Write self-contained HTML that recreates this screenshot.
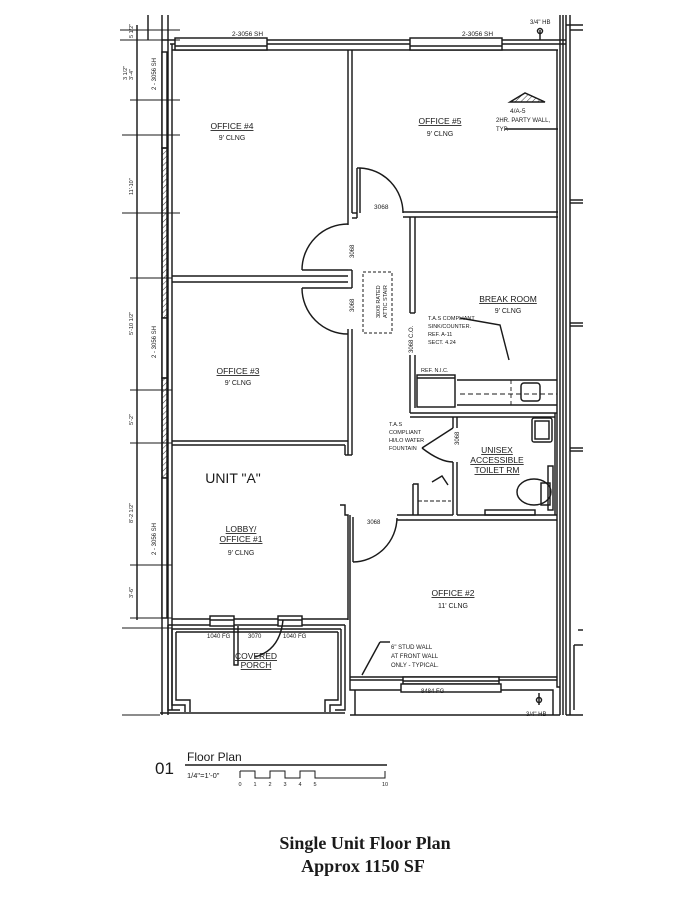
<!DOCTYPE html>
<html><head><meta charset="utf-8"><style>
html,body{margin:0;padding:0;background:#fff;}
svg{display:block}
text{font-family:"Liberation Sans",sans-serif;fill:#1a1a1a}
</style></head><body>
<svg width="695" height="900" viewBox="0 0 695 900" xmlns="http://www.w3.org/2000/svg">
<defs>
<pattern id="hatch" width="4" height="4" patternUnits="userSpaceOnUse" patternTransform="rotate(45)">
<line x1="0" y1="0" x2="0" y2="4" stroke="#333" stroke-width="1"/></pattern>
</defs>
<g stroke="#1a1a1a" stroke-width="1.45" fill="none">
<line x1="162" y1="40" x2="566" y2="40"/>
<line x1="170" y1="44" x2="566" y2="44"/>
<line x1="172" y1="50" x2="558" y2="50"/>
<rect x="175" y="38" width="92" height="12" fill="#fff"/>
<line x1="175" y1="46" x2="267" y2="46"/>
<rect x="410" y="38" width="92" height="12" fill="#fff"/>
<line x1="410" y1="46" x2="502" y2="46"/>
<line x1="162" y1="15" x2="162" y2="715"/>
<line x1="168" y1="15" x2="168" y2="715"/>
<line x1="172" y1="44" x2="172" y2="710"/>
<rect x="162" y="52" width="5" height="96" fill="#fff"/>
<rect x="162" y="148" width="5" height="170" fill="url(#hatch)"/>
<rect x="162" y="318" width="5" height="60" fill="#fff"/>
<rect x="162" y="378" width="5" height="100" fill="url(#hatch)"/>
<rect x="162" y="478" width="5" height="140" fill="#fff"/>
<line x1="148" y1="15" x2="148" y2="40"/>
<line x1="137" y1="25" x2="137" y2="620"/>
<g stroke-width="0.9">
<line x1="120" y1="30" x2="180" y2="30"/><line x1="120" y1="40" x2="180" y2="40"/>
<line x1="130" y1="100" x2="180" y2="100"/><line x1="122" y1="135" x2="180" y2="135"/>
<line x1="122" y1="213" x2="180" y2="213"/><line x1="130" y1="278" x2="172" y2="278"/>
<line x1="130" y1="390" x2="172" y2="390"/><line x1="130" y1="443" x2="172" y2="443"/>
<line x1="130" y1="565" x2="172" y2="565"/><line x1="130" y1="618" x2="172" y2="618"/>
<line x1="122" y1="628" x2="172" y2="628"/>
<line x1="122" y1="715" x2="160" y2="715"/>
</g>
<line x1="348" y1="50" x2="348" y2="225"/><line x1="352" y1="50" x2="352" y2="213"/>
<line x1="352" y1="213" x2="357" y2="213"/><line x1="357" y1="213" x2="357" y2="218"/><line x1="352" y1="218" x2="357" y2="218"/>
<line x1="357" y1="168" x2="357" y2="213"/><line x1="360" y1="168" x2="360" y2="213"/><line x1="357" y1="168" x2="360" y2="168"/>
<path d="M360 168 A45 45 0 0 1 403 213"/>
<line x1="403" y1="212" x2="558" y2="212"/><line x1="403" y1="217" x2="558" y2="217"/>
<line x1="410" y1="217" x2="410" y2="313"/><line x1="415" y1="217" x2="415" y2="313"/><line x1="410" y1="313" x2="415" y2="313"/>
<line x1="410" y1="355" x2="410" y2="413"/><line x1="415" y1="355" x2="415" y2="408"/>
<line x1="557" y1="50" x2="557" y2="680"/><line x1="560" y1="15" x2="560" y2="715"/>
<line x1="563" y1="15" x2="563" y2="715"/><line x1="566" y1="15" x2="566" y2="715"/>
<line x1="570" y1="15" x2="570" y2="715"/>
<line x1="566" y1="25" x2="583" y2="25"/><line x1="570" y1="30" x2="583" y2="30"/>
<line x1="570" y1="200" x2="583" y2="200"/><line x1="570" y1="203" x2="583" y2="203"/>
<line x1="570" y1="323" x2="583" y2="323"/><line x1="570" y1="326" x2="583" y2="326"/>
<line x1="570" y1="448" x2="583" y2="448"/><line x1="570" y1="451" x2="583" y2="451"/>
<line x1="574" y1="645" x2="583" y2="645"/><line x1="574" y1="645" x2="574" y2="710"/>
<line x1="578" y1="630" x2="583" y2="630"/>
<line x1="566" y1="715" x2="583" y2="715"/>
<line x1="172" y1="276" x2="348" y2="276"/><line x1="172" y1="282" x2="348" y2="282"/>
<line x1="302" y1="270" x2="348" y2="270"/><line x1="302" y1="288" x2="348" y2="288"/>
<path d="M302 270 A46 46 0 0 1 348 224"/>
<path d="M302 288 A46 46 0 0 0 348 334"/>
<line x1="348" y1="270" x2="352" y2="270"/><line x1="352" y1="270" x2="352" y2="288"/><line x1="348" y1="288" x2="352" y2="288"/>
<line x1="348" y1="329" x2="348" y2="455"/><line x1="352" y1="329" x2="352" y2="455"/><line x1="345" y1="455" x2="352" y2="455"/><line x1="345" y1="445" x2="345" y2="455"/>
<rect x="363" y="272" width="29" height="61" stroke-dasharray="3,2" stroke-width="1"/>
<line x1="172" y1="441" x2="348" y2="441"/><line x1="172" y1="445" x2="345" y2="445"/>
<line x1="410" y1="413" x2="557" y2="413"/><line x1="410" y1="417" x2="457" y2="417"/>
<rect x="417" y="375" width="38" height="32"/><line x1="417" y1="378" x2="455" y2="378"/>
<line x1="457" y1="380" x2="557" y2="380"/><line x1="457" y1="405" x2="557" y2="405"/>
<line x1="460" y1="394" x2="557" y2="394" stroke-dasharray="5,3" stroke-width="0.9"/>
<line x1="511" y1="380" x2="511" y2="405" stroke-dasharray="4,3" stroke-width="0.9"/>
<rect x="521" y="383" width="19" height="18" rx="3"/>
<polyline points="509,360 500,325 460,318"/>
<line x1="457" y1="417" x2="555" y2="417"/><line x1="555" y1="413" x2="555" y2="515"/>
<line x1="457" y1="417" x2="457" y2="428"/><line x1="453" y1="417" x2="453" y2="428"/>
<line x1="457" y1="462" x2="457" y2="515"/><line x1="453" y1="462" x2="453" y2="515"/>
<line x1="453" y1="428" x2="422" y2="448"/><path d="M422 448 Q440 462 453 462"/>
<rect x="532" y="418" width="20" height="24" rx="2"/><rect x="535" y="421" width="14" height="18"/>
<ellipse cx="534" cy="492" rx="17" ry="13"/>
<rect x="541" y="483" width="9" height="22"/><rect x="548" y="466" width="5" height="44"/>
<rect x="485" y="510" width="50" height="5"/>
<line x1="457" y1="515" x2="557" y2="515"/>
<path d="M413 484 L418 484 L418 515 M413 484 L413 515 M432 482 L442 476 L448 485"/>
<line x1="418" y1="501" x2="451" y2="501" stroke-dasharray="4,2" stroke-width="0.9"/>
<line x1="397" y1="515" x2="453" y2="515"/><line x1="397" y1="520" x2="557" y2="520"/>
<path d="M340 505 L345 505 L345 515 L348 515 L348 620"/>
<line x1="350" y1="515" x2="350" y2="680"/><line x1="353" y1="517" x2="353" y2="562"/>
<path d="M353 562 A45 45 0 0 0 397 518"/>
<line x1="350" y1="677" x2="557" y2="677"/><line x1="350" y1="680" x2="557" y2="680"/>
<rect x="403" y="677" width="96" height="7" fill="#fff"/><line x1="403" y1="681" x2="499" y2="681"/>
<rect x="401" y="684" width="100" height="8" fill="#fff"/>
<path d="M350 680 L350 690 L355 690 L355 715 M355 690 L401 690 M501 690 L553 690 L553 715 M557 680 L557 687 L560 687"/>
<line x1="350" y1="715" x2="560" y2="715"/>
<line x1="539" y1="693" x2="539" y2="705"/><circle cx="539" cy="700" r="2.5"/>
<line x1="380" y1="642" x2="362" y2="675"/><line x1="380" y1="642" x2="390" y2="642"/>
<line x1="172" y1="619" x2="348" y2="619"/>
<line x1="168" y1="625" x2="345" y2="625"/><line x1="172" y1="629" x2="341" y2="629"/><line x1="176" y1="632" x2="338" y2="632"/>
<rect x="210" y="616" width="24" height="10" fill="#fff"/><rect x="278" y="616" width="24" height="10" fill="#fff"/>
<line x1="210" y1="620" x2="234" y2="620"/><line x1="278" y1="620" x2="302" y2="620"/>
<path d="M234 626 L234 665 L238 665 L238 626"/>
<path d="M283 620 Q280 650 255 657"/>
<path d="M176 632 L176 700 L190 700 L190 712 M172 629 L172 705 L185 705 L185 712 M168 625 L168 710 L180 710"/>
<path d="M338 632 L338 700 L325 700 L325 712 M341 629 L341 705 L330 705 L330 712 M345 625 L345 710 L335 710"/>
<line x1="160" y1="713" x2="345" y2="713"/>
<path d="M510 102 L525 93 L545 102 Z" fill="url(#hatch)"/>
<line x1="505" y1="129" x2="558" y2="129"/>
<line x1="540" y1="30" x2="540" y2="40"/><circle cx="540" cy="31" r="2.5"/>
<line x1="185" y1="765" x2="387" y2="765"/>
<path d="M240 771 L240 778 M240 771 L255 771 L255 778 L270 778 L270 771 L285 771 L285 778 L300 778 L300 771 L315 771 L315 778 L385 778 L385 771" stroke-width="1"/>
</g>
<g font-size="6.5">
<text x="232" y="36">2-3056 SH</text><text x="462" y="36">2-3056 SH</text>
<text x="530" y="24" font-size="6">3/4" HB</text>
<text x="374" y="209">3068</text>
<text x="510" y="113" font-size="6.5">4/A-5</text>
<text x="496" y="122" font-size="6">2HR. PARTY WALL,</text><text x="496" y="131" font-size="6">TYP.</text>
<text x="428" y="320" font-size="5.5">T.A.S COMPLIANT</text><text x="428" y="328" font-size="5.5">SINK/COUNTER.</text>
<text x="428" y="336" font-size="5.5">REF. A-11</text><text x="428" y="344" font-size="5.5">SECT. 4.24</text>
<text x="421" y="372" font-size="5.5">REF. N.I.C.</text>
<text x="389" y="426" font-size="5.5">T.A.S</text><text x="389" y="434" font-size="5.5">COMPLIANT</text>
<text x="389" y="442" font-size="5.5">HI/LO WATER</text><text x="389" y="450" font-size="5.5">FOUNTAIN</text>
<text x="367" y="524" font-size="6">3068</text>
<text x="207" y="638" font-size="6">1040 FG</text><text x="248" y="638" font-size="6">3070</text><text x="283" y="638" font-size="6">1040 FG</text>
<text x="391" y="649" font-size="6">6" STUD WALL</text><text x="391" y="658" font-size="6">AT FRONT WALL</text><text x="391" y="667" font-size="6">ONLY - TYPICAL.</text>
<text x="421" y="693" font-size="6">8484 FG</text>
<text x="526" y="716" font-size="6">3/4" HB</text>
</g>
<g font-size="6">
<text transform="translate(354,258) rotate(-90)">3068</text>
<text transform="translate(354,312) rotate(-90)">3068</text>
<text transform="translate(380,318) rotate(-90)" font-size="5.5">30X8 RATED</text>
<text transform="translate(387,318) rotate(-90)" font-size="5.5">ATTIC STAIR</text>
<text transform="translate(413,353) rotate(-90)">3068 C.O.</text>
<text transform="translate(459,445) rotate(-90)">3068</text>
<text transform="translate(156,90) rotate(-90)">2 - 3056 SH</text>
<text transform="translate(156,358) rotate(-90)">2 - 3056 SH</text>
<text transform="translate(156,555) rotate(-90)">2 - 3056 SH</text>
<text transform="translate(133,38) rotate(-90)" font-size="5.5">5 1/2"</text>
<text transform="translate(127,80) rotate(-90)" font-size="5.5">3 1/2"</text>
<text transform="translate(133,80) rotate(-90)" font-size="5.5">3'-4"</text>
<text transform="translate(133,195) rotate(-90)" font-size="5.5">11'-10"</text>
<text transform="translate(133,335) rotate(-90)" font-size="5.5">5'-10 1/2"</text>
<text transform="translate(133,425) rotate(-90)" font-size="5.5">5'-2"</text>
<text transform="translate(133,523) rotate(-90)" font-size="5.5">8'-2 1/2"</text>
<text transform="translate(133,598) rotate(-90)" font-size="5.5">3'-6"</text>
</g>
<g font-size="8.5" text-anchor="middle">
<text x="232" y="129" text-decoration="underline">OFFICE #4</text><text x="232" y="140" font-size="7">9' CLNG</text>
<text x="440" y="124" text-decoration="underline">OFFICE #5</text><text x="440" y="136" font-size="7">9' CLNG</text>
<text x="508" y="302" text-decoration="underline">BREAK ROOM</text><text x="508" y="313" font-size="7">9' CLNG</text>
<text x="238" y="374" text-decoration="underline">OFFICE #3</text><text x="238" y="385" font-size="7">9' CLNG</text>
<text x="497" y="453" text-decoration="underline">UNISEX</text><text x="497" y="463" text-decoration="underline">ACCESSIBLE</text><text x="497" y="473" text-decoration="underline">TOILET RM</text>
<text x="233" y="483" font-size="14">UNIT "A"</text>
<text x="241" y="532" text-decoration="underline">LOBBY/</text><text x="241" y="542" text-decoration="underline">OFFICE #1</text><text x="241" y="555" font-size="7">9' CLNG</text>
<text x="453" y="596" text-decoration="underline">OFFICE #2</text><text x="453" y="608" font-size="7">11' CLNG</text>
<text x="256" y="659" text-decoration="underline">COVERED</text><text x="256" y="668" text-decoration="underline">PORCH</text>
</g>
<text x="155" y="774" font-size="17">01</text>
<text x="187" y="761" font-size="12">Floor Plan</text>
<text x="187" y="778" font-size="7.5">1/4"=1'-0"</text>
<g font-size="5.5" text-anchor="middle"><text x="240" y="786">0</text><text x="255" y="786">1</text><text x="270" y="786">2</text><text x="285" y="786">3</text><text x="300" y="786">4</text><text x="315" y="786">5</text><text x="385" y="786">10</text></g>
<g text-anchor="middle" font-weight="bold" font-size="18">
<text x="365" y="849" style="font-family:'Liberation Serif',serif">Single Unit Floor Plan</text>
<text x="363" y="872" style="font-family:'Liberation Serif',serif">Approx 1150 SF</text>
</g>
</svg>
</body></html>
